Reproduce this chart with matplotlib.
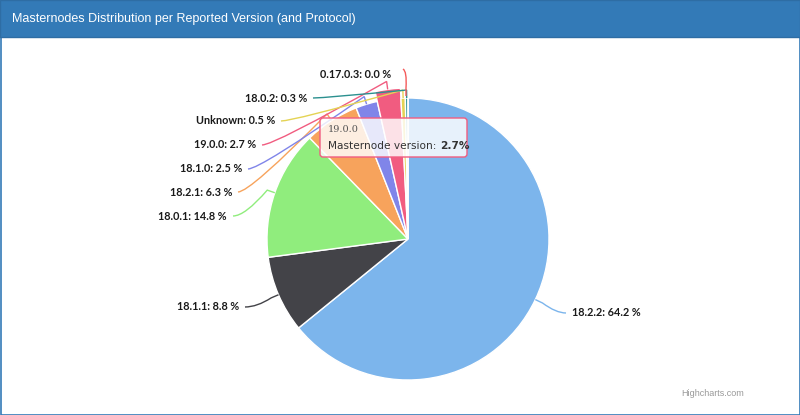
import matplotlib
matplotlib.use("Agg")
import matplotlib.pyplot as plt
import numpy as np
from matplotlib.patches import Rectangle, FancyBboxPatch
from matplotlib.path import Path
from matplotlib.patches import PathPatch

title = "Masternodes Distribution per Reported Version (and Protocol)"
versions = ["18.2.2", "18.1.1", "18.0.1", "18.2.1", "18.1.0", "19.0.0", "Unknown", "18.0.2", "0.17.0.3"]
shares = [64.2, 8.8, 14.8, 6.3, 2.5, 2.7, 0.5, 0.3, 0.0]
colors = ["#7cb5ec", "#434348", "#90ed7d", "#f7a35c", "#8085e9", "#f15c80", "#e4d354", "#2b908f", "#f45b5b"]
hovered = "19.0.0"

W, H = 800, 415
fig = plt.figure(figsize=(W / 100, H / 100), dpi=100)
ax = fig.add_axes([0, 0, 1, 1])

def Y(y):
    return H - y

cx, cy, R = 408, Y(239), 141
wedges, _ = ax.pie(shares, colors=colors, startangle=90, counterclock=False, radius=R,
                   center=(cx, cy), frame=True,
                   wedgeprops=dict(edgecolor="white", linewidth=1))
ax.set_xlim(0, W)
ax.set_ylim(0, H)
ax.axis("off")
for w, v in zip(wedges, versions):
    w.set_zorder(3)
    if v == hovered:
        w.set_radius(R + 10)

# panel + header
ax.add_patch(Rectangle((0.5, 0.5), W - 1, H - 1, facecolor="white", edgecolor="#337ab7", lw=1.2, zorder=0))
ax.add_patch(Rectangle((0, Y(37)), W, 37, facecolor="#337ab7", edgecolor="#2e6da4", lw=1, zorder=1))
ax.text(12, Y(19), title, color="white", fontsize=9, family="Liberation Sans", va="center", ha="left", zorder=2)

# label positions (pixel coords of label anchor)
label_pos = {
    "18.2.2": (572, 313, "left"),
    "18.1.1": (239, 307, "right"),
    "18.0.1": (227, 216, "right"),
    "18.2.1": (232, 192, "right"),
    "18.1.0": (242, 169, "right"),
    "19.0.0": (256, 145, "right"),
    "Unknown": (275, 121, "right"),
    "18.0.2": (307, 98, "right"),
    "0.17.0.3": (356, 74, "center"),
}

total = sum(shares)
cum = 0.0
for v, s, c in zip(versions, shares, colors):
    mid = (cum + s / 2) / total * 2 * np.pi
    cum += s
    r_edge = R + (10 if v == hovered else 0)
    ex = cx + r_edge * np.sin(mid)
    ey = cy + r_edge * np.cos(mid)
    lx, ly, ha = label_pos[v]
    ly = Y(ly)
    ax.text(lx, ly, f"{v}: {s:.1f} %", fontsize=7.8, fontweight="bold", color="#1a1a1a",
            ha=ha, va="center", family="Lato", zorder=6)
    if ha == "left":
        sx = lx - 6
        sy = ly
        ctrl = (sx - 10, sy)
    elif ha == "right":
        sx = lx + 6
        sy = ly
        ctrl = (sx + 12, sy)
    else:
        sx = 403
        sy = Y(69)
        ctrl = (sx + 4, sy - 2)
        ex, ey = cx - 2, Y(96)
    ox = cx + (r_edge + 8) * np.sin(mid)
    oy = cy + (r_edge + 8) * np.cos(mid)
    if ha == "center":
        ox, oy = ex, ey + 8
    path = Path([(sx, sy), ctrl, (ox, oy), (ex, ey)],
                [Path.MOVETO, Path.CURVE3, Path.CURVE3, Path.LINETO])
    ax.add_patch(PathPatch(path, facecolor="none", edgecolor=c, lw=1, zorder=5))

# tooltip
ax.add_patch(FancyBboxPatch((320, Y(157)), 147, 39, boxstyle="round,pad=0,rounding_size=3",
                            facecolor=(1, 1, 1, 0.82), edgecolor="#f15c80", lw=1, zorder=7))
ax.text(328, Y(130), "19.0.0", fontsize=7, color="#555555", family="DejaVu Serif", va="center", zorder=8)
t1 = ax.text(328, Y(146), "Masternode version: ", fontsize=7.6, color="#333333", family="DejaVu Sans",
             va="center", zorder=8)
fig.canvas.draw()
bb = t1.get_window_extent()
ax.text(bb.x1, Y(146), "2.7%", fontsize=7.6, color="#333333", family="DejaVu Sans",
        fontweight="bold", va="center", zorder=8)

ax.text(681, Y(393), "Highcharts.com", fontsize=6.5, color="#999999", family="Liberation Sans", va="center", zorder=8)

fig.savefig("out.png", dpi=100)
